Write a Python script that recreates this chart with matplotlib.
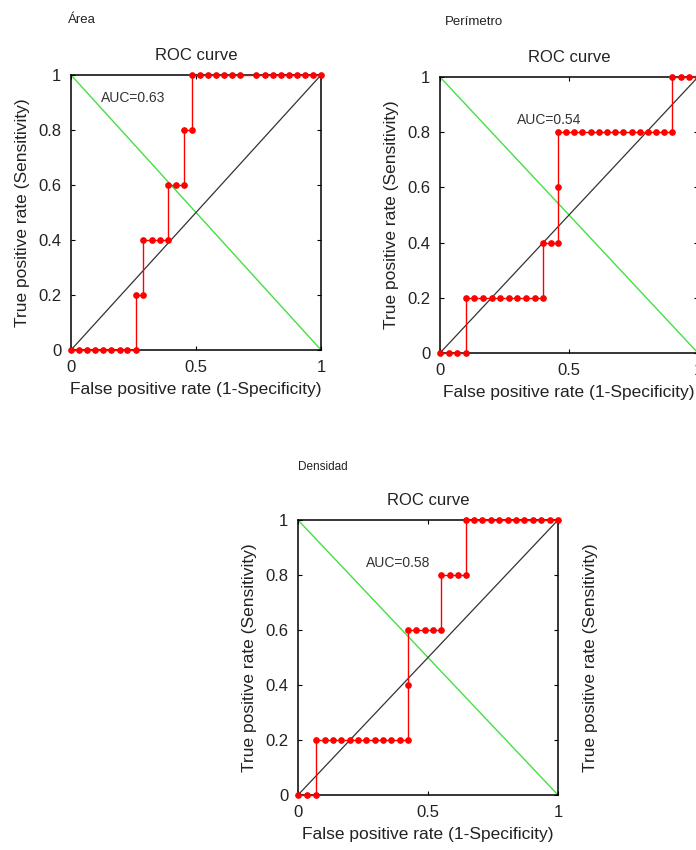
import matplotlib.pyplot as plt

plt.rcParams['font.family'] = ['Liberation Sans', 'DejaVu Sans']

# ROC points (fpr, tpr)
fpr_area = [0, .032, .065, .097, .129, .161, .194, .226, .258,
            .258, .290,
            .290, .323, .355, .387,
            .387, .419, .452,
            .452, .484,
            .484, .516, .548, .581, .613, .645, .677, .742, .774, .806, .839, .871, .903, .935, .968, 1.0]
tpr_area = [0, 0, 0, 0, 0, 0, 0, 0, 0,
            .2, .2,
            .4, .4, .4, .4,
            .6, .6, .6,
            .8, .8,
            1, 1, 1, 1, 1, 1, 1, 1, 1, 1, 1, 1, 1, 1, 1, 1]

fpr_per = [0, .033, .067, .10,
           .10, .133, .167, .20, .233, .267, .30, .333, .367, .40,
           .40, .43, .457,
           .457,
           .457, .489, .52, .552, .584, .616, .647, .679, .711, .743, .774, .806, .838, .87, .90,
           .90, .935, .967, 1.0]
tpr_per = [0, 0, 0, 0,
           .2, .2, .2, .2, .2, .2, .2, .2, .2, .2,
           .4, .4, .4,
           .6,
           .8, .8, .8, .8, .8, .8, .8, .8, .8, .8, .8, .8, .8, .8, .8,
           1, 1, 1, 1]

fpr_den = [0, .035, .071,
           .071, .103, .135, .167, .199, .231, .263, .295, .327, .359, .391, .423,
           .423,
           .423, .455, .487, .519, .551,
           .551, .583, .615, .645,
           .645, .677, .709, .742, .774, .806, .838, .87, .903, .935, .968, 1.0]
tpr_den = [0, 0, 0,
           .2, .2, .2, .2, .2, .2, .2, .2, .2, .2, .2, .2,
           .4,
           .6, .6, .6, .6, .6,
           .8, .8, .8, .8,
           1, 1, 1, 1, 1, 1, 1, 1, 1, 1, 1, 1]

auc_labels = ['AUC=0.63', 'AUC=0.54', 'AUC=0.58']
names = ['Área', 'Perímetro', 'Densidad']

txt = '#222222'


def roc_panel(rect, fpr, tpr, auc, auc_xy):
    ax = fig.add_axes(rect)
    ax.plot([0, 1], [1, 0], color='#44e044', lw=1)
    ax.plot([0, 1], [0, 1], color='#333333', lw=0.9)
    ax.plot(fpr, tpr, color='red', lw=1, marker='o', markersize=3.8, clip_on=False, zorder=3)
    ax.set_xlim(0, 1)
    ax.set_ylim(0, 1)
    ax.set_xticks([0, 0.5, 1])
    ax.set_xticklabels(['0', '0.5', '1'])
    ax.set_yticks([0, 0.2, 0.4, 0.6, 0.8, 1])
    ax.set_yticklabels(['0', '0.2', '0.4', '0.6', '0.8', '1'])
    ax.tick_params(direction='in', top=True, right=True, length=3, labelsize=12,
                   pad=7, labelcolor=txt)
    for s in ax.spines.values():
        s.set_linewidth(1.1)
    ax.set_title('ROC curve', fontsize=12, pad=11, color=txt)
    ax.set_xlabel('False positive rate (1-Specificity)', fontsize=12.5, labelpad=5, color=txt)
    ax.set_ylabel('True positive rate (Sensitivity)', fontsize=12.5, labelpad=6, color=txt)
    ax.text(auc_xy[0], auc_xy[1], auc, fontsize=10, color='#333333')
    return ax


fig = plt.figure(figsize=(6.96, 8.5), dpi=100)

roc_panel([71/696, 1-350/850, 250/696, 275/850], fpr_area, tpr_area, auc_labels[0], (0.12, 0.9))
roc_panel([440/696, 1-353/850, 258/696, 276/850], fpr_per, tpr_per, auc_labels[1], (0.3, 0.83))
roc_panel([298/696, 1-795/850, 260/696, 275/850], fpr_den, tpr_den, auc_labels[2], (0.26, 0.83))

fig.text(68/696, 1-20/850, names[0], fontsize=9.5, va='center', color=txt)
fig.text(445/696, 1-22/850, names[1], fontsize=9.5, va='center', color=txt)
fig.text(298/696, 1-467/850, names[2], fontsize=8.5, va='center', color=txt)
fig.text(590/696, 1-658/850, 'True positive rate (Sensitivity)', fontsize=12.5,
         rotation=90, ha='center', va='center', color=txt)

fig.savefig('out.png', dpi=100, facecolor='w')
